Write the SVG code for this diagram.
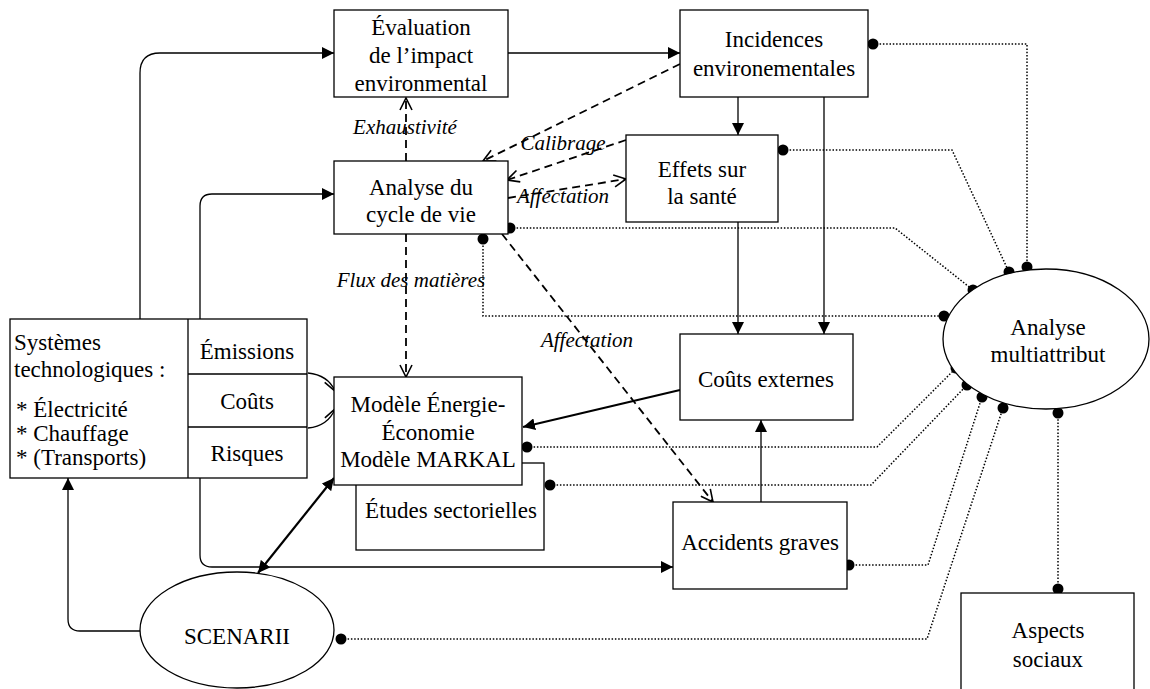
<svg xmlns="http://www.w3.org/2000/svg" width="1150" height="689" viewBox="0 0 1150 689">
  <style>
    .box { fill: #fff; stroke: #000; stroke-width: 1.3; }
    .t { font-family: "Liberation Serif", "Times New Roman", serif; font-size: 23px; fill: #000; }
    .c { text-anchor: middle; }
    .lbl { font-family: "Liberation Serif", "Times New Roman", serif; font-size: 21px; font-style: italic; fill: #000; text-anchor: middle; }
    .solid { fill: none; stroke: #000; stroke-width: 1.3; }
    .thick { fill: none; stroke: #000; stroke-width: 2.2; }
    .dash { fill: none; stroke: #000; stroke-width: 1.8; stroke-dasharray: 8 5; }
    .dot { fill: none; stroke: #000; stroke-width: 1.5; stroke-dasharray: 1.5 1.8; }
  </style>
  <defs>
    <marker id="ah" viewBox="0 0 12 12" refX="12" refY="6" markerWidth="12" markerHeight="12" markerUnits="userSpaceOnUse" orient="auto">
      <path d="M0,0 L12,6 L0,12 z" fill="#000"/>
    </marker>
    <marker id="ahs" viewBox="0 0 12 12" refX="0" refY="6" markerWidth="12" markerHeight="12" markerUnits="userSpaceOnUse" orient="auto">
      <path d="M12,0 L0,6 L12,12 z" fill="#000"/>
    </marker>
    <marker id="oh" viewBox="0 0 14 14" refX="13" refY="7" markerWidth="14" markerHeight="14" markerUnits="userSpaceOnUse" orient="auto">
      <path d="M1,1 L13,7 L1,13" fill="none" stroke="#000" stroke-width="1.6"/>
    </marker>
    <marker id="dt" viewBox="-6 -6 12 12" refX="0" refY="0" markerWidth="12" markerHeight="12" markerUnits="userSpaceOnUse">
      <circle r="5.5" fill="#000"/>
    </marker>
  </defs>

  <!-- connectors -->
  <g id="connectors">
    <!-- solid flows -->
    <path class="solid" d="M140,319 V73 Q140,53 160,53 H334" marker-end="url(#ah)"/>
    <path class="solid" d="M200,319 V206 Q200,194 212,194 H334" marker-end="url(#ah)"/>
    <path class="solid" d="M508,53 H680" marker-end="url(#ah)"/>
    <path class="solid" d="M738,97 V135" marker-end="url(#ah)"/>
    <path class="solid" d="M824,97 V334" marker-end="url(#ah)"/>
    <path class="solid" d="M738,222 V334" marker-end="url(#ah)"/>
    <path class="solid" d="M761,502 V420" marker-end="url(#ah)"/>
    <path class="solid" d="M200,478 V555 Q200,567 212,567 H673" marker-end="url(#ah)"/>
    <path class="solid" d="M140,631 H80 Q68,631 68,619 V478" marker-end="url(#ah)"/>
    <path class="thick" d="M680,390 L523,427" marker-end="url(#ah)"/>
    <path class="thick" d="M258,573 L334,478" marker-start="url(#ahs)" marker-end="url(#ah)"/>
    <!-- Émissions / Coûts into the model -->
    <path class="solid" d="M308,373 Q328,375 335,391" marker-end="url(#oh)"/>
    <path class="solid" d="M308,428 Q328,426 335,409" marker-end="url(#oh)"/>

    <!-- dashed flows -->
    <path class="dash" d="M406,161 V98" marker-end="url(#oh)"/>
    <path class="dash" d="M406,234 V377" marker-end="url(#oh)"/>
    <path class="dash" d="M680,64 L483,161" marker-end="url(#oh)"/>
    <path class="dash" d="M626,140 L507,180" marker-end="url(#oh)"/>
    <path class="dash" d="M508,198 L626,179" marker-end="url(#oh)"/>
    <path class="dash" d="M502,234 L713,502" marker-end="url(#oh)"/>

    <!-- dotted links to the multi-attribute analysis -->
    <path class="dot" d="M873,44 H1027 V267" marker-start="url(#dt)" marker-end="url(#dt)"/>
    <path class="dot" d="M783,150 H952 L1009,272" marker-start="url(#dt)" marker-end="url(#dt)"/>
    <path class="dot" d="M510,228 H895 L973,290" marker-start="url(#dt)" marker-end="url(#dt)"/>
    <path class="dot" d="M483,239 V316 H944" marker-start="url(#dt)" marker-end="url(#dt)"/>
    <path class="dot" d="M527,447 H877 L956,368" marker-start="url(#dt)" marker-end="url(#dt)"/>
    <path class="dot" d="M550,485 H871 L967,385" marker-start="url(#dt)" marker-end="url(#dt)"/>
    <path class="dot" d="M849,565 H928 L982,397" marker-start="url(#dt)" marker-end="url(#dt)"/>
    <path class="dot" d="M341,639 H927 L1003,408" marker-start="url(#dt)" marker-end="url(#dt)"/>
    <path class="dot" d="M1058,589 V413" marker-start="url(#dt)" marker-end="url(#dt)"/>
  </g>

  <!-- connector labels -->
  <g id="labels">
    <text class="lbl" x="405" y="134">Exhaustivité</text>
    <text class="lbl" x="563" y="150">Calibrage</text>
    <text class="lbl" x="563" y="203">Affectation</text>
    <text class="lbl" x="411" y="287">Flux des matières</text>
    <text class="lbl" x="587" y="347">Affectation</text>
  </g>

  <g id="evaluation">
    <rect class="box" x="334" y="10" width="174" height="87"/>
    <text class="t c" x="421" y="35">Évaluation</text>
    <text class="t c" x="421" y="63">de l’impact</text>
    <text class="t c" x="421" y="91">environmental</text>
  </g>

  <g id="incidences">
    <rect class="box" x="680" y="10" width="188" height="87"/>
    <text class="t c" x="774" y="47">Incidences</text>
    <text class="t c" x="774" y="76">environementales</text>
  </g>

  <g id="acv">
    <rect class="box" x="334" y="161" width="174" height="73"/>
    <text class="t c" x="421" y="195">Analyse du</text>
    <text class="t c" x="421" y="222">cycle de vie</text>
  </g>

  <g id="sante">
    <rect class="box" x="626" y="135" width="152" height="87"/>
    <text class="t c" x="702" y="177">Effets sur</text>
    <text class="t c" x="702" y="204">la santé</text>
  </g>

  <g id="couts-externes">
    <rect class="box" x="680" y="334" width="173" height="86"/>
    <text class="t c" x="766" y="387">Coûts externes</text>
  </g>

  <g id="accidents">
    <rect class="box" x="673" y="502" width="174" height="87"/>
    <text class="t c" x="760" y="550">Accidents graves</text>
  </g>

  <g id="etudes">
    <rect class="box" x="356" y="463" width="188" height="87"/>
    <text class="t c" x="451" y="518">Études sectorielles</text>
  </g>

  <g id="markal">
    <rect class="box" x="334" y="377" width="188" height="108"/>
    <text class="t c" x="428" y="412">Modèle Énergie-</text>
    <text class="t c" x="428" y="440">Économie</text>
    <text class="t c" x="428" y="467">Modèle MARKAL</text>
  </g>

  <g id="systemes">
    <rect class="box" x="10" y="319" width="297" height="159"/>
    <path class="solid" d="M188,319 V478 M188,374 H307 M188,427 H307"/>
    <text class="t" x="14" y="350">Systèmes</text>
    <text class="t" x="14" y="377">technologiques :</text>
    <text class="t" x="16" y="417">* Électricité</text>
    <text class="t" x="16" y="441">* Chauffage</text>
    <text class="t" x="16" y="465">* (Transports)</text>
    <text class="t c" x="247" y="359">Émissions</text>
    <text class="t c" x="247" y="409">Coûts</text>
    <text class="t c" x="247" y="461">Risques</text>
  </g>

  <g id="multiattribut">
    <ellipse class="box" cx="1046" cy="339" rx="103" ry="70"/>
    <text class="t c" x="1048" y="335">Analyse</text>
    <text class="t c" x="1048" y="362">multiattribut</text>
  </g>

  <g id="scenarii">
    <ellipse class="box" cx="237" cy="630" rx="97" ry="58"/>
    <text class="t c" x="237" y="644">SCENARII</text>
  </g>

  <g id="social">
    <rect class="box" x="961" y="593" width="173" height="110"/>
    <text class="t c" x="1048" y="638">Aspects</text>
    <text class="t c" x="1048" y="667">sociaux</text>
  </g>
</svg>
